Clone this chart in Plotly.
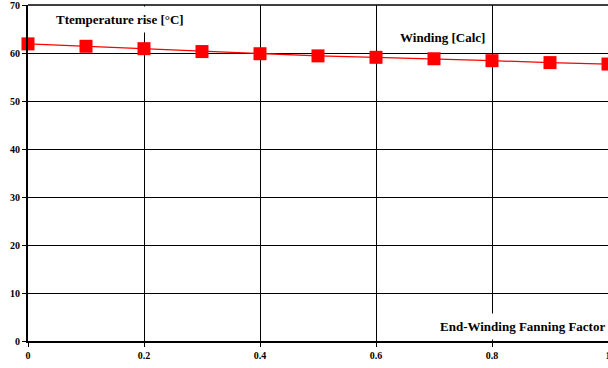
import plotly.graph_objects as go

fanning_factor = [0.0, 0.1, 0.2, 0.3, 0.4, 0.5, 0.6, 0.7, 0.8, 0.9, 1.0]
temp_rise = [61.9, 61.4, 60.9, 60.3, 59.85, 59.4, 59.1, 58.8, 58.4, 58.0, 57.7]
x_ticks = [0, 0.2, 0.4, 0.6, 0.8, 1]
x_tick_labels = ["0", "0.2", "0.4", "0.6", "0.8", "1"]
y_ticks = [0, 10, 20, 30, 40, 50, 60, 70]

FONT = "Liberation Serif"

fig = go.Figure()
fig.add_trace(go.Scatter(
    x=fanning_factor, y=temp_rise, mode="lines+markers",
    line=dict(color="#ff0000", width=1.3),
    marker=dict(symbol="square", size=13, color="#ff0000", line=dict(width=0)),
    cliponaxis=False, showlegend=False,
))

fig.update_layout(
    width=608, height=368,
    margin=dict(l=28, r=0, t=5, b=27),
    paper_bgcolor="white", plot_bgcolor="white",
    font=dict(family=FONT, color="black"),
    xaxis=dict(range=[0, 1], tickvals=x_ticks, ticktext=x_tick_labels,
               automargin=False, ticklabeloverflow="allow",
               showgrid=True, gridcolor="black", gridwidth=1,
               showline=True, linecolor="black", linewidth=2,
               ticks="outside", ticklen=4, tickcolor="black", tickwidth=1,
               tickfont=dict(family=FONT, size=10, color="black", weight="bold"),
               zeroline=False),
    yaxis=dict(range=[0, 70], tickvals=y_ticks,
               automargin=False, ticklabeloverflow="allow",
               showgrid=True, gridcolor="black", gridwidth=1,
               showline=True, linecolor="black", linewidth=2,
               ticks="outside", ticklen=4, tickcolor="black", tickwidth=1,
               tickfont=dict(family=FONT, size=10, color="black", weight="bold"),
               zeroline=False),
    shapes=[
        dict(type="line", xref="x domain", yref="y domain", x0=0, x1=1, y0=1, y1=1,
             line=dict(color="black", width=1.5), layer="above"),
    ],
    annotations=[
        dict(text="<b>Ttemperature rise [°C]</b>", x=0.159, y=67.0, xref="x", yref="y",
             showarrow=False, font=dict(family=FONT, size=13, color="black"),
             bgcolor="white", borderpad=5),
        dict(text="<b>Winding [Calc]</b>", x=0.714, y=63.3, xref="x", yref="y",
             showarrow=False, font=dict(family=FONT, size=13, color="black"),
             bgcolor="white", borderpad=2),
        dict(text="<b>End-Winding Fanning Factor</b>", x=0.852, y=3.1, xref="x", yref="y",
             showarrow=False, font=dict(family=FONT, size=13, color="black"),
             bgcolor="white", borderpad=5),
    ],
)

fig.write_html("out.html", config={"displayModeBar": False},
               post_script="document.body.style.margin='0';document.body.style.overflow='hidden';")
